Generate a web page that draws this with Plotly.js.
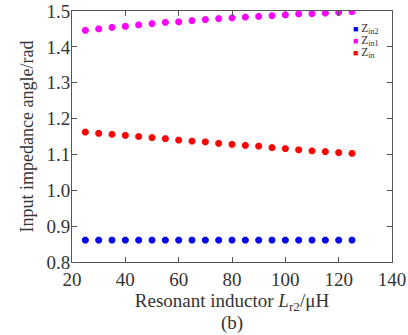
<!DOCTYPE html>
<html>
<head>
<meta charset="utf-8">
<script src="https://cdn.plot.ly/plotly-3.0.1.min.js"></script>
<style>html,body{margin:0;padding:0;background:#fff;}#chart{width:408px;height:335px;}</style>
</head>
<body>
<div id="chart"></div>
<script>
const inductance = [25,30,35,40,45,50,55,60,65,70,75,80,85,90,95,100,105,110,115,120,125];
const zin2 = [0.861,0.861,0.861,0.861,0.861,0.861,0.861,0.861,0.861,0.861,0.861,0.861,0.861,0.861,0.861,0.861,0.861,0.861,0.861,0.861,0.861];
const zin1 = [1.446,1.450,1.454,1.457,1.461,1.465,1.468,1.470,1.473,1.476,1.479,1.481,1.483,1.485,1.487,1.489,1.492,1.493,1.494,1.496,1.498];
const zin = [1.162,1.159,1.156,1.153,1.150,1.147,1.144,1.140,1.137,1.135,1.131,1.128,1.125,1.123,1.119,1.116,1.113,1.110,1.108,1.105,1.103];
const seriesNames = ['Z<sub>in2</sub>','Z<sub>in1</sub>','Z<sub>in</sub>'];
const xTicks = [20,40,60,80,100,120,140];
const yTicks = [0.8,0.9,1.0,1.1,1.2,1.3,1.4,1.5];
const yTickText = ['0.8','0.9','1.0','1.1','1.2','1.3','1.4','1.5'];

const colors = ['#0000ff','#ff00ff','#ff0000'];
const ys = [zin2, zin1, zin];
const traces = ys.map((y,i)=>({
  x: inductance, y: y, type:'scatter', mode:'markers', name: seriesNames[i], showlegend:false,
  marker:{symbol:'octagon', size:6, color:colors[i], line:{width:1.2, color:colors[i]}}
}));

const font = 'Liberation Serif';
const legendAnn = seriesNames.map((n,i)=>({
  text:'<span style="color:'+colors[i]+';font-size:9px">■</span><span style="color:#333"> '+n+'</span>',
  xref:'paper', yref:'paper', x:0.875, y:1 - (18 + 12*i)/251, xanchor:'left', yanchor:'middle',
  showarrow:false, font:{family:font, size:11.5, color:'#333'}, borderpad:0
}));

const layout = {
  width:408, height:335,
  margin:{l:72, r:16, t:11, b:73},
  paper_bgcolor:'#fff', plot_bgcolor:'#fff',
  font:{family:font, size:19, color:'#333'},
  showlegend:false,
  xaxis:{range:[20,140], tickvals:xTicks, ticks:'inside', ticklen:5, tickcolor:'#555',
    showline:true, linecolor:'#555', linewidth:1, mirror:'ticks', showgrid:false, zeroline:false,
    tickfont:{family:font, size:19, color:'#333'},
    title:{text:'Resonant inductor <i>L</i><sub>r2</sub>/μH', font:{family:font, size:19, color:'#333'}, standoff:0}},
  yaxis:{range:[0.8,1.5], tickvals:yTicks, ticktext:yTickText, ticks:'inside', ticklen:5, tickcolor:'#555',
    showline:true, linecolor:'#555', linewidth:1, mirror:'ticks', showgrid:false, zeroline:false,
    ticklabelstandoff:-3,
    tickfont:{family:font, size:19, color:'#333'},
    title:{text:'Input impedance angle/rad', font:{family:font, size:18, color:'#333'}, standoff:8}},
  annotations:[{text:'(b)', xref:'paper', yref:'paper', x:0.5, y:-0.243, yanchor:'middle', showarrow:false,
    font:{family:font, size:19, color:'#333'}}].concat(legendAnn)
};
Plotly.newPlot('chart', traces, layout, {displayModeBar:false, staticPlot:true});
</script>
</body>
</html>
